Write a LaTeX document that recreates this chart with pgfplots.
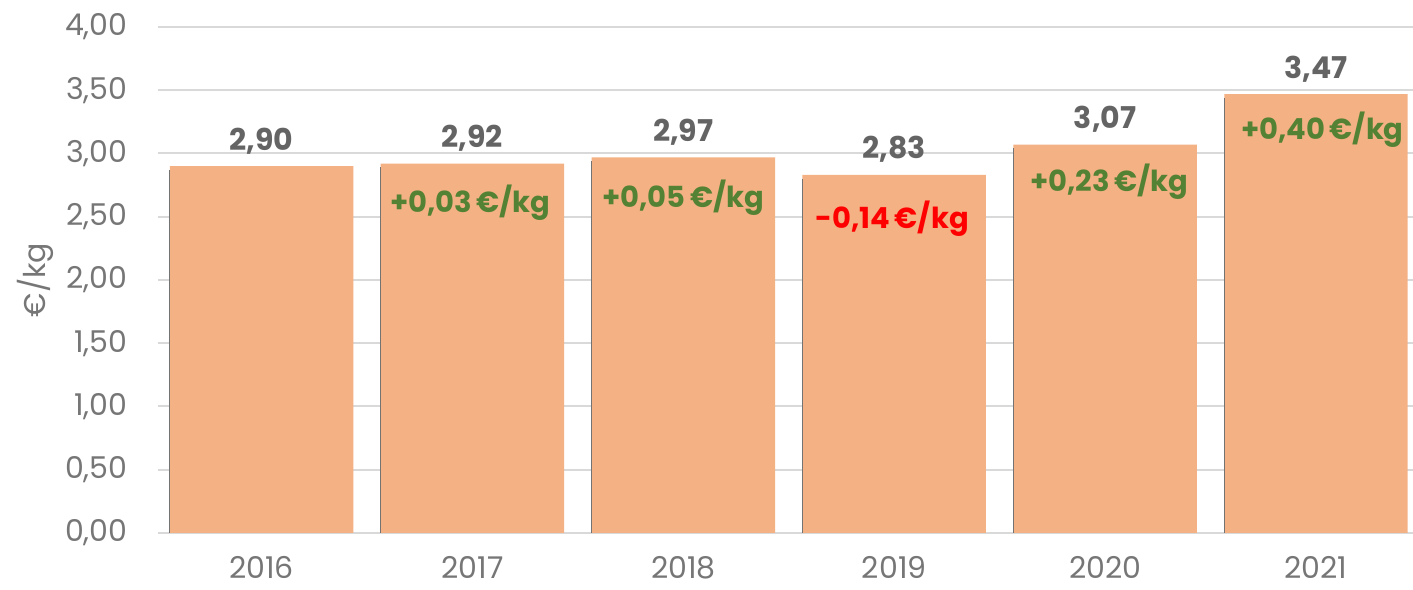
\documentclass[border=0pt]{standalone}
\usepackage{pgfplots}
\pgfplotsset{compat=1.18}
\usepackage{fontspec}
\setmainfont{Poppins}
\definecolor{barc}{HTML}{F4B183}
\definecolor{valc}{HTML}{646464}
\definecolor{tickc}{HTML}{767676}
\definecolor{gridc}{HTML}{D9D9D9}
\definecolor{posc}{HTML}{548235}
\definecolor{negc}{HTML}{FF0000}
\begin{document}
\begin{tikzpicture}
\begin{axis}[
  scale only axis, width=627.5pt, height=253pt,
  xmin=-0.491, xmax=5.46, ymin=0, ymax=4,
  ytick={0,0.5,1,1.5,2,2.5,3,3.5,4},
  xtick={0,1,2,3,4,5},
  xticklabels={2016,2017,2018,2019,2020,2021},
  axis line style={draw=none}, major tick length=0pt,
  ymajorgrids, grid style={line width=1pt, color=gridc},
  tick label style={font=\fontsize{15}{18}\selectfont, text=tickc},
  yticklabel style={anchor=east, inner sep=0pt, xshift=-15pt},
  xticklabel style={anchor=base, inner sep=0pt, yshift=-23pt},
  ylabel={€/kg},
  ylabel style={at={([xshift=-61.5pt]axis description cs:0,0.5)}, anchor=center, font=\fontsize{15}{18}\selectfont, text=tickc},
  /pgf/number format/fixed, /pgf/number format/fixed zerofill,
  /pgf/number format/precision=2, /pgf/number format/use comma,
  /pgf/number format/assume math mode=true,
  clip=false,
]
\coordinate (bl) at (rel axis cs:0,0);
\coordinate (tr) at (rel axis cs:1,1);
\addplot[ybar, bar width=0.87, fill=barc, draw=none,
  nodes near coords,
  nodes near coords style={font=\bfseries\fontsize{15}{18}\selectfont, text=valc, anchor=base, yshift=8pt, inner sep=0pt}]
  coordinates {(0,2.90) (1,2.92) (2,2.97) (3,2.83) (4,3.07) (5,3.47)};
\addplot[ycomb, mark=none, draw=black!55, line width=0.6pt]
  coordinates {(-0.435,2.87) (0.565,2.89) (1.565,2.94) (2.565,2.80) (3.565,3.04) (4.565,3.44)};
\addplot[draw=none, mark=none, nodes near coords, point meta=explicit symbolic,
  nodes near coords style={font=\bfseries\fontsize{14.5}{17}\selectfont, text=posc, anchor=base, inner sep=0pt}]
  table[meta=label] {
x y label
0.99 2.53 {+0,03\,€/kg}
2.00 2.57 {+0,05\,€/kg}
4.02 2.70 {+0,23\,€/kg}
5.03 3.11 {+0,40\,€/kg}
};
\addplot[draw=none, mark=none, nodes near coords, point meta=explicit symbolic,
  nodes near coords style={font=\bfseries\fontsize{14.5}{17}\selectfont, text=negc, anchor=base, inner sep=0pt}]
  table[meta=label] {
x y label
2.99 2.41 {-0,14\,€/kg}
};
\end{axis}
\pgfresetboundingbox
\path ([xshift=-79pt,yshift=-28.5pt]bl) rectangle ([yshift=13.5pt]tr);
\end{tikzpicture}
\end{document}
